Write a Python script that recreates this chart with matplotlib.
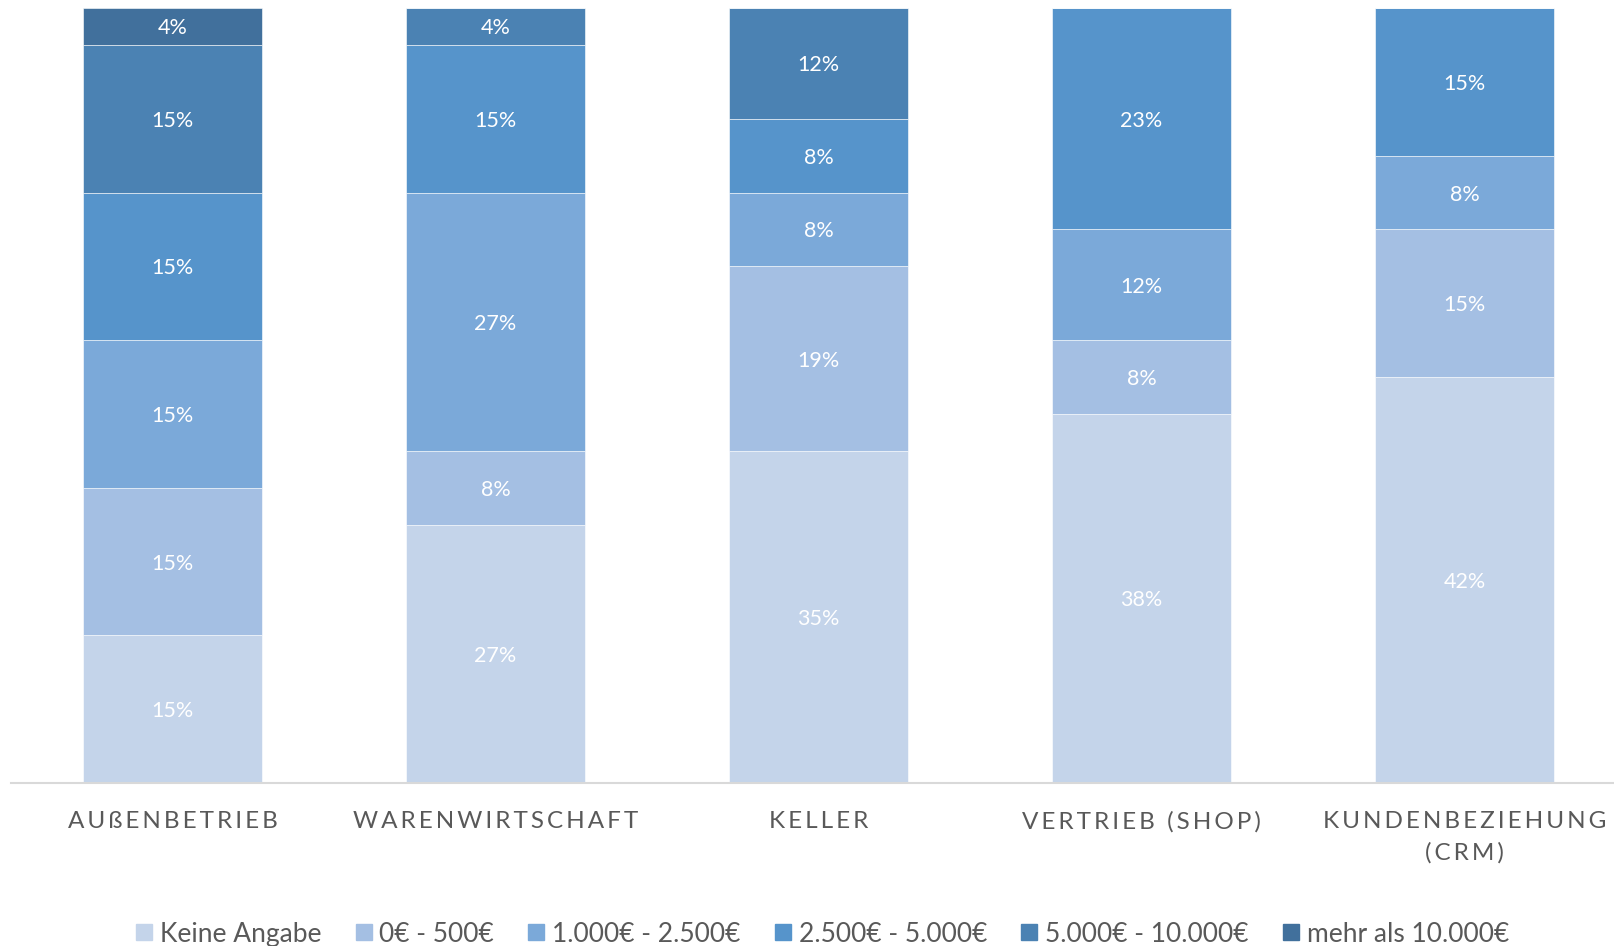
import numpy as np
import matplotlib
matplotlib.use('Agg')
import matplotlib.pyplot as plt
from matplotlib.lines import Line2D
from matplotlib.transforms import blended_transform_factory

plt.rcParams['font.family'] = ['Lato', 'DejaVu Sans']

# Kategorien (Bereiche) und Antworten je Budgetklasse (Anzahl, n = 26 Befragte)
categories = ['Außenbetrieb', 'Warenwirtschaft', 'Keller', 'Vertrieb (Shop)', 'Kundenbeziehung\n(CRM)']
series = ['Keine Angabe', '0€ - 500€', '1.000€ - 2.500€', '2.500€ - 5.000€',
          '5.000€ - 10.000€', 'mehr als 10.000€']
n_respondents = 26
keine_angabe = [4, 7, 9, 10, 11]
bis_500 = [4, 2, 5, 2, 4]
bis_2500 = [4, 7, 2, 3, 2]
bis_5000 = [4, 4, 2, 6, 4]
bis_10000 = [4, 1, 3, 0, 0]
ueber_10000 = [1, 0, 0, 0, 0]
colors = ['#C4D4EA', '#A4BFE3', '#7BA9D9', '#5694CB', '#4B82B3', '#41709C']

counts = np.array([keine_angabe, bis_500, bis_2500, bis_5000, bis_10000, ueber_10000], dtype=float)
shares = counts / counts.sum(axis=0)   # 100%-gestapelt

fig = plt.figure(figsize=(16.14, 9.46), dpi=100)
ax = fig.add_axes([11 / 1614, 163 / 946, 1615 / 1614, 775 / 946])

x = np.arange(len(categories))
bottom = np.zeros(len(categories))
for i, name in enumerate(series):
    ax.bar(x, shares[i], 0.557, bottom=bottom, color=colors[i],
           edgecolor='white', linewidth=0.4, label=name)
    for j in range(len(categories)):
        if counts[i, j] > 0:
            pct = round(counts[i, j] / n_respondents * 100)
            ax.text(x[j], bottom[j] + shares[i, j] / 2, f'{pct}%', ha='center',
                    va='center_baseline', color='white', fontsize=15.5)
    bottom += shares[i]

ax.set_xlim(-0.5, len(categories) - 0.5)
ax.set_ylim(0, 1)
ax.set_yticks([])
ax.set_xticks([])
for s in ['top', 'right', 'left']:
    ax.spines[s].set_visible(False)
ax.spines['bottom'].set_color('#D9D9D9')
ax.spines['bottom'].set_linewidth(1.5)


def caps(s):
    # Großbuchstaben, ß bleibt erhalten
    return ''.join(ch if ch == 'ß' else ch.upper() for ch in s)


# Kategorienamen in Großbuchstaben mit Zeichenabstand
trans = blended_transform_factory(ax.transData, ax.transAxes)
for j, cat in enumerate(categories):
    spaced = '\n'.join('\u2009'.join(caps(line)) for line in cat.split('\n'))
    ax.text(x[j], -0.036, spaced, transform=trans, ha='center', va='top',
            color='#595959', fontsize=17.5, linespacing=1.6)

handles = [Line2D([], [], marker='s', linestyle='none', markersize=11.5,
                  markerfacecolor=c, markeredgecolor=c) for c in colors]
fig.legend(handles, series, loc='center', bbox_to_anchor=(0.5096, 0.0125), ncol=6,
           frameon=False, fontsize=19, labelcolor='#595959', handlelength=0.6,
           handletextpad=0.3, columnspacing=1.3, borderpad=0)

fig.savefig('out.png', dpi=100)
